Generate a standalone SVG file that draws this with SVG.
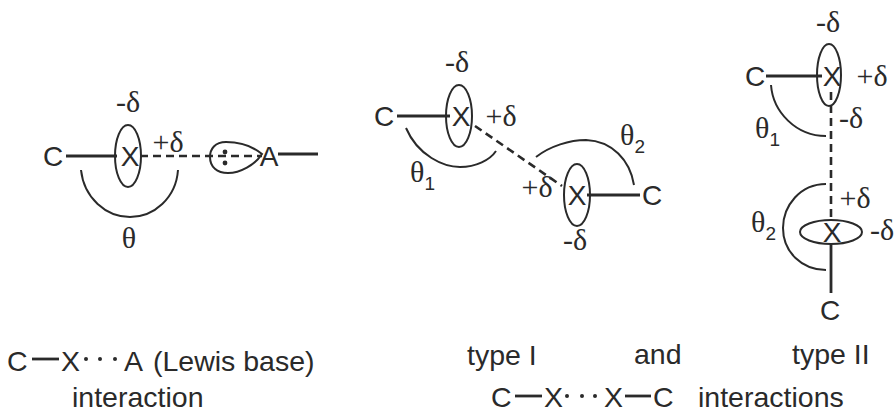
<svg xmlns="http://www.w3.org/2000/svg" width="896" height="414" viewBox="0 0 896 414">
<style>
.s{font-family:"Liberation Sans",Arial,sans-serif;font-size:28px;fill:#2a2a2a}
.b{font-family:"Liberation Sans",Arial,sans-serif;font-size:28.5px;fill:#2a2a2a}
.g{font-family:"Liberation Serif","DejaVu Serif",serif;font-size:30px;fill:#2a2a2a}
.u{font-family:"Liberation Sans",Arial,sans-serif;font-size:19px}
.m{text-anchor:middle}
.l,.o,.d{fill:none;stroke:#2a2a2a}
.l{stroke-width:2.8}
.o{stroke-width:2}
.d{stroke-width:2.6;stroke-dasharray:8 5}
.t{fill:#2a2a2a}
</style>
<rect width="896" height="414" fill="#fff"/>
<g id="connectors">
<path class="l" d="M66 156H117M278 154H318"/>
<path class="d" d="M140 156H262"/>
<path class="o" d="M81 170C84 198 106 217 130 217C154 217 176 198 178 170"/>
<path class="l" d="M397 116H450M587 195H640"/>
<path class="d" d="M475 126L562 186"/>
<path class="o" d="M406 128C418 156 444 167 460 167C476 167 490 160 496 151"/>
<path class="o" d="M536 157C550 146 570 140 586 140C612 141 630 160 634 185"/>
<path class="l" d="M766 76H822M831 245V293"/>
<path class="d" d="M831 92V220"/>
<path class="o" d="M771 85C773 112 796 136 826 136"/>
<path class="o" d="M826 184C800 184 783 206 783 228C783 252 802 270 826 270"/>
</g>
<g id="node-halogen-a">
<ellipse class="o" cx="128" cy="156" rx="13" ry="31"/>
<text class="s m" x="130" y="166">X</text>
<text class="g m" x="128" y="112">-δ</text>
<text class="g m" x="168" y="152">+δ</text>
</g>
<g id="node-c-a"><text class="s m" x="53" y="166">C</text></g>
<g id="node-lewis-base">
<path class="o" d="M262 154C250 144 236 142 226 142C215 142 210 149 210 157C210 167 217 173 228 173C240 173 255 165 262 154Z"/>
<circle class="t" cx="225" cy="152" r="2.4"/><circle class="t" cx="225" cy="163" r="2.4"/>
<text class="s m" x="269" y="166">A</text>
</g>
<g id="label-theta"><text class="g m" x="129" y="248">θ</text></g>
<g id="node-c-1"><text class="s m" x="384" y="126">C</text></g>
<g id="node-halogen-1">
<ellipse class="o" cx="459" cy="116" rx="13" ry="31"/>
<text class="s m" x="461" y="126">X</text>
<text class="g m" x="457" y="72">-δ</text>
<text class="g m" x="501" y="126">+δ</text>
</g>
<g id="label-theta1-1"><text class="g" x="410" y="182">θ<tspan class="u" dy="8">1</tspan></text></g>
<g id="label-theta2-1"><text class="g" x="620" y="145">θ<tspan class="u" dy="8">2</tspan></text></g>
<g id="node-halogen-2">
<ellipse class="o" cx="577" cy="195" rx="13" ry="31"/>
<text class="s m" x="577" y="205">X</text>
<text class="g m" x="537" y="197">+δ</text>
<text class="g m" x="575" y="250">-δ</text>
</g>
<g id="node-c-2"><text class="s m" x="652" y="205">C</text></g>
<g id="node-c-3"><text class="s m" x="755" y="86">C</text></g>
<g id="node-halogen-3">
<ellipse class="o" cx="829" cy="75" rx="12" ry="31"/>
<text class="s m" x="832" y="86">X</text>
<text class="g m" x="828" y="32">-δ</text>
<text class="g m" x="872" y="86">+δ</text>
<text class="g m" x="851" y="128">-δ</text>
</g>
<g id="label-theta1-2"><text class="g" x="755" y="138">θ<tspan class="u" dy="8">1</tspan></text></g>
<g id="label-theta2-2"><text class="g" x="751" y="232">θ<tspan class="u" dy="8">2</tspan></text></g>
<g id="node-halogen-4">
<ellipse class="o" cx="831" cy="232" rx="31" ry="12"/>
<text class="s m" x="832" y="242">X</text>
<text class="g m" x="855" y="208">+δ</text>
<text class="g" x="870" y="240">-δ</text>
</g>
<g id="node-c-4"><text class="s m" x="830" y="320">C</text></g>
<g id="caption-lewis">
<text class="b" x="7" y="371">C</text>
<path class="l" d="M32 359H59"/>
<text class="b" x="61" y="371">X</text>
<circle class="t" cx="86" cy="359" r="2"/><circle class="t" cx="100" cy="359" r="2"/><circle class="t" cx="115" cy="359" r="2"/>
<text class="b" x="124" y="371">A</text>
<text class="b" x="153" y="371">(Lewis base)</text>
<text class="b" x="72" y="407">interaction</text>
</g>
<g id="caption-types">
<text class="b" x="467" y="365">type I</text>
<text class="b" x="634" y="364">and</text>
<text class="b" x="792" y="364">type II</text>
<text class="b" x="491" y="407">C</text>
<path class="l" d="M515 396H542"/>
<text class="b" x="544" y="407">X</text>
<circle class="t" cx="567" cy="396" r="2"/><circle class="t" cx="582" cy="396" r="2"/><circle class="t" cx="595" cy="396" r="2"/>
<text class="b" x="604" y="407">X</text>
<path class="l" d="M625 396H651"/>
<text class="b" x="653" y="407">C</text>
<text class="b" x="698" y="407">interactions</text>
</g>
</svg>
